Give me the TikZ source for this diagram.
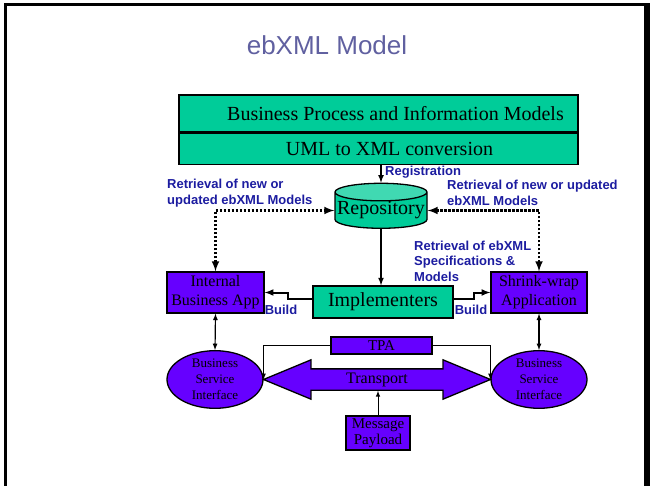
\documentclass[tikz,border=0pt]{standalone}
\usepackage{fontspec}
\setmainfont{Liberation Serif}
\setsansfont{Liberation Sans}
\usetikzlibrary{positioning}
\usetikzlibrary{shapes.geometric}
\usetikzlibrary{shapes.arrows}
\definecolor{ebgreen}{RGB}{0,204,153}
\definecolor{ebviolet}{RGB}{102,0,255}
\definecolor{eblabel}{RGB}{28,28,160}
\definecolor{ebtitle}{RGB}{96,96,160}

\begin{document}
\begin{tikzpicture}[x=1pt,y=-1pt,>=latex]

        \tikzstyle{greenbox}  = [rectangle, draw, fill=ebgreen, line width=1.3pt, inner sep=0pt,
            font=\fontsize{20}{24}\selectfont]
        \tikzstyle{violetbox} = [rectangle, draw, fill=ebviolet, line width=1.3pt, inner sep=0pt,
            align=center, font=\fontsize{16}{19}\selectfont]
        \tikzstyle{service}   = [ellipse, draw, fill=ebviolet, line width=1.3pt, inner sep=0pt,
            minimum width=96pt, minimum height=53pt, align=center, font=\fontsize{13}{16}\selectfont]
        \tikzstyle{remark}    = [inner sep=0pt, align=left, text=eblabel,
            font=\sffamily\bfseries\fontsize{13}{15.5}\selectfont]

        \useasboundingbox (0,0) rectangle (650,486);
        \draw[line width=3pt] (5.5,486) -- (5.5,5) -- (644,5);
        \fill (644,3.5) rectangle (650,486);

        \node[font=\sffamily\fontsize{26}{30}\selectfont, text=ebtitle] (title) at (327,45) {ebXML Model};

        \node[greenbox, minimum width=399pt, minimum height=37pt]       (bpModels)     at (378.5,113.5) {\hspace*{34pt}Business Process and Information Models};
        \node[greenbox, minimum width=399pt, minimum height=31pt, below=0pt of bpModels] (umlXml) {\hspace*{22pt}UML to XML conversion};
        \node[cylinder, shape border rotate=90, aspect=0.2, draw, line width=1.3pt,
              cylinder uses custom fill, cylinder body fill=ebgreen, cylinder end fill=ebgreen!75!white,
              minimum width=92pt, minimum height=45pt, inner sep=0pt,
              font=\fontsize{20}{24}\selectfont]                        (repository)   at (381,210.5)   {Repository};
        \node[greenbox, minimum width=140pt, minimum height=32pt]       (implementers) at (383,302)     {Implementers};
        \node[violetbox, minimum width=97pt, minimum height=41pt]       (internalApp)  at (215.5,292.5) {Internal\\Business App};
        \node[violetbox, minimum width=96pt, minimum height=41pt]       (shrinkApp)    at (539,292.5)   {Shrink-wrap\\Application};
        \node[service]                                                  (leftBsi)      at (215,379.5)   {Business\\Service\\Interface};
        \node[service]                                                  (rightBsi)     at (539,379.5)   {Business\\Service\\Interface};
        \node[violetbox, minimum width=101pt, minimum height=17pt, font=\fontsize{15}{17}\selectfont] (tpa) at (381.5,345.5) {TPA};
        \node[double arrow, draw, fill=ebviolet, line width=1.3pt, double arrow tip angle=45,
              double arrow head extend=9pt, minimum height=227pt, inner xsep=0pt, inner ysep=2pt,
              text height=12pt, text depth=4pt, font=\fontsize{16}{19}\selectfont] (transport) at (377,379.5) {Transport};
        \node[violetbox, minimum width=64pt, minimum height=34pt, font=\fontsize{15}{16.5}\selectfont] (payload) at (378,433) {Message\\Payload};

        \node[remark, anchor=west] (registration)   at (385,172) {Registration};
        \node[remark, anchor=west] (leftRetrieval)  at (167,193) {Retrieval of new or\\updated ebXML Models};
        \node[remark, anchor=west] (rightRetrieval) at (447,193) {Retrieval of new or updated\\ebXML Models};
        \node[remark, anchor=west] (specRetrieval)  at (414,261) {Retrieval of ebXML\\Specifications \&\\Models};
        \node[remark]              (leftBuild)      at (281,310) {Build};
        \node[remark]              (rightBuild)     at (471,310) {Build};

        \draw[->, line width=1.6pt] (repository.north |- umlXml.south) -- (repository.north);
        \draw[->, line width=1.6pt] (repository.south) -- (repository.south |- implementers.north);
        \draw[<->, line width=2.4pt, dash pattern=on 2.4pt off 1.6pt] (internalApp.north) |- (repository.west);
        \draw[<->, line width=2.4pt, dash pattern=on 2.4pt off 1.6pt] (shrinkApp.north)   |- (repository.east);
        \draw[->, line width=2pt] ([yshift=3pt]implementers.west) -- ++(-24,0) |- (internalApp.east);
        \draw[->, line width=2pt] ([yshift=3pt]implementers.east) -- ++(20,0)  |- (shrinkApp.west);
        \draw[<->, line width=1.2pt] (internalApp.south) -- (leftBsi.north);
        \draw[<->, line width=1.2pt] (shrinkApp.south)   -- (rightBsi.north);
        \draw[->, line width=1pt] (tpa.west) -| (leftBsi.east);
        \draw[->, line width=1pt] (tpa.east) -| (rightBsi.west);
        \draw[->, line width=1pt] (payload.north) -- (payload.north |- transport.south);

\end{tikzpicture}
\end{document}
